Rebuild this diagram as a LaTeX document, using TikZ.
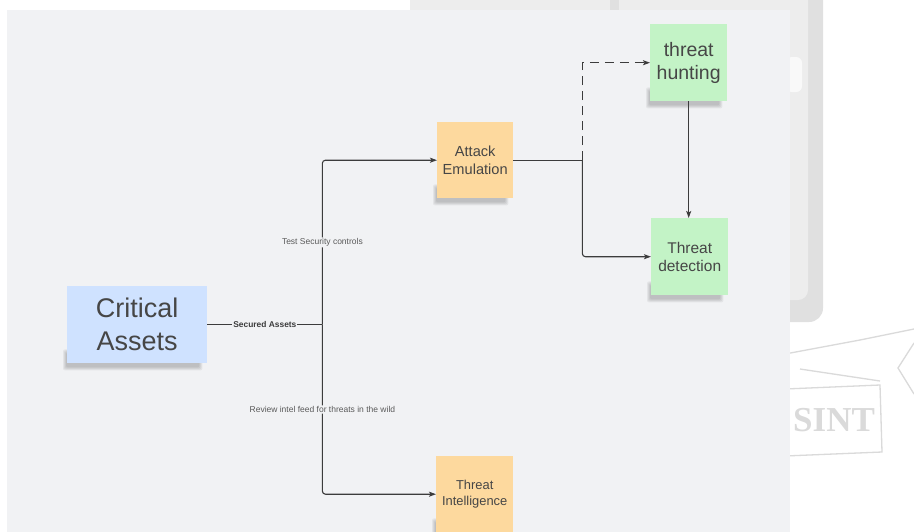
\documentclass[tikz,border=0pt]{standalone}
\usepackage{fontspec}
\setmainfont{Liberation Sans}
\newfontfamily\stampfont{Liberation Serif}
\usetikzlibrary{arrows.meta,calc,backgrounds}

\definecolor{panel}{HTML}{F1F2F4}
\definecolor{phonebody}{HTML}{EDEDED}
\definecolor{phoneedge}{HTML}{E0E0E0}
\definecolor{stampgray}{HTML}{DADADA}
\definecolor{noteblue}{HTML}{CFE2FF}
\definecolor{noteorange}{HTML}{FDD99E}
\definecolor{notegreen}{HTML}{C3F3C6}
\definecolor{notetext}{HTML}{464646}
\definecolor{wiregray}{HTML}{3C3C3C}
\definecolor{taggray}{HTML}{5A5A5A}

% soft shadow under the lower edge of a sticky note
\newcommand\noteshadow[1]{%
  \foreach \i in {0,...,3}{%
    \fill[black,opacity=.055,rounded corners=2pt]
      ($(#1.south west)+(-4+\i,-14+\i)$) rectangle ($(#1.south east)+(-5-\i,7-\i)$);
  }%
}

\begin{document}
\begin{tikzpicture}[x=1pt,y=-1pt,
  note/.style={rectangle, inner sep=0pt, anchor=north west, align=center,
    text=notetext, minimum width=77pt, minimum height=77pt},
  wire/.style={draw=wiregray, line width=1.1pt},
  tip/.style={-{Stealth[length=7pt,width=5pt,inset=1.5pt]}},
  tag/.style={fill=panel, inner sep=1pt, text=taggray,
    font=\fontsize{8.5}{10}\selectfont}
]
\useasboundingbox (0,0) rectangle (914,531);

\begin{scope}[on background layer]
  % page and the device standing behind the board
  \fill[white] (0,0) rectangle (914,531);
  \fill[phoneedge,rounded corners=14pt] (410,-30) rectangle (823,322);
  \fill[phonebody,rounded corners=10pt] (410,-30) rectangle (808,300);
  \fill[phoneedge] (610,-5) rectangle (619,12);
  \fill[white,opacity=.7,rounded corners=6pt] (786,57) rectangle (802,92);
  % stamp ribbon
  \begin{scope}[draw=stampgray,line width=1.3pt]
    \draw (785,354) -- (860,340) -- (914,329);
    \draw (914,343) -- (898,368) -- (914,394);
    \draw (800,369) -- (880,381);
    \draw (785,389) -- (880,385) -- (882,452) -- (785,456);
  \end{scope}
  \node[text=stampgray,anchor=west,inner sep=0pt,
    font=\stampfont\bfseries\fontsize{35}{35}\selectfont]
    at (793,420) {SINT};
  % board
  \fill[panel] (7,10) rectangle (790,535);
\end{scope}

% sticky notes
\node[note,fill=noteblue,minimum width=140pt,minimum height=77pt,
  font=\fontsize{27}{33}\selectfont] (ca) at (67,286) {Critical\\Assets};
\node[note,fill=noteorange,minimum width=76pt,minimum height=76pt,
  font=\fontsize{14.6}{18}\selectfont] (ae) at (437,122) {Attack\\Emulation};
\node[note,fill=notegreen,font=\fontsize{19.5}{23}\selectfont]
  (th) at (650,24) {threat\\hunting};
\node[note,fill=notegreen,font=\fontsize{15.5}{18}\selectfont]
  (td) at (651,218) {Threat\\detection};
\node[note,fill=noteorange,minimum width=77pt,minimum height=76pt,
  font=\fontsize{12.9}{16}\selectfont] (ti) at (436,456) {Threat\\Intelligence};

\begin{scope}[on background layer]
  \noteshadow{ca}
  \noteshadow{ae}
  \noteshadow{th}
  \noteshadow{td}
  \noteshadow{ti}
\end{scope}

% connectors
\coordinate (hub) at ($(ca.east)+(115,0)$);
\coordinate (fork) at ($(ae.east)+(69,0)$);

\draw[wire] (ca.east) -- node[tag,text=wiregray,font=\bfseries\fontsize{8.4}{10}\selectfont]
  {Secured Assets} (hub);
\draw[wire,tip,rounded corners=3pt] (hub) |-
  node[tag,pos=.25] {Test Security controls} (ae.west);
\draw[wire,tip,rounded corners=3pt] (hub) |-
  node[tag,pos=.25] {Review intel feed for threats in the wild} (ti.west);
\draw[wire] (ae.east) -- (fork);
\draw[wire,tip,rounded corners=3pt] (fork) |- (td.west);
\draw[wire,tip,dash pattern=on 9pt off 6pt] (fork) |- (th.west);
\draw[wire,tip] (th.south) -- (th.south |- td.north);
\end{tikzpicture}
\end{document}
